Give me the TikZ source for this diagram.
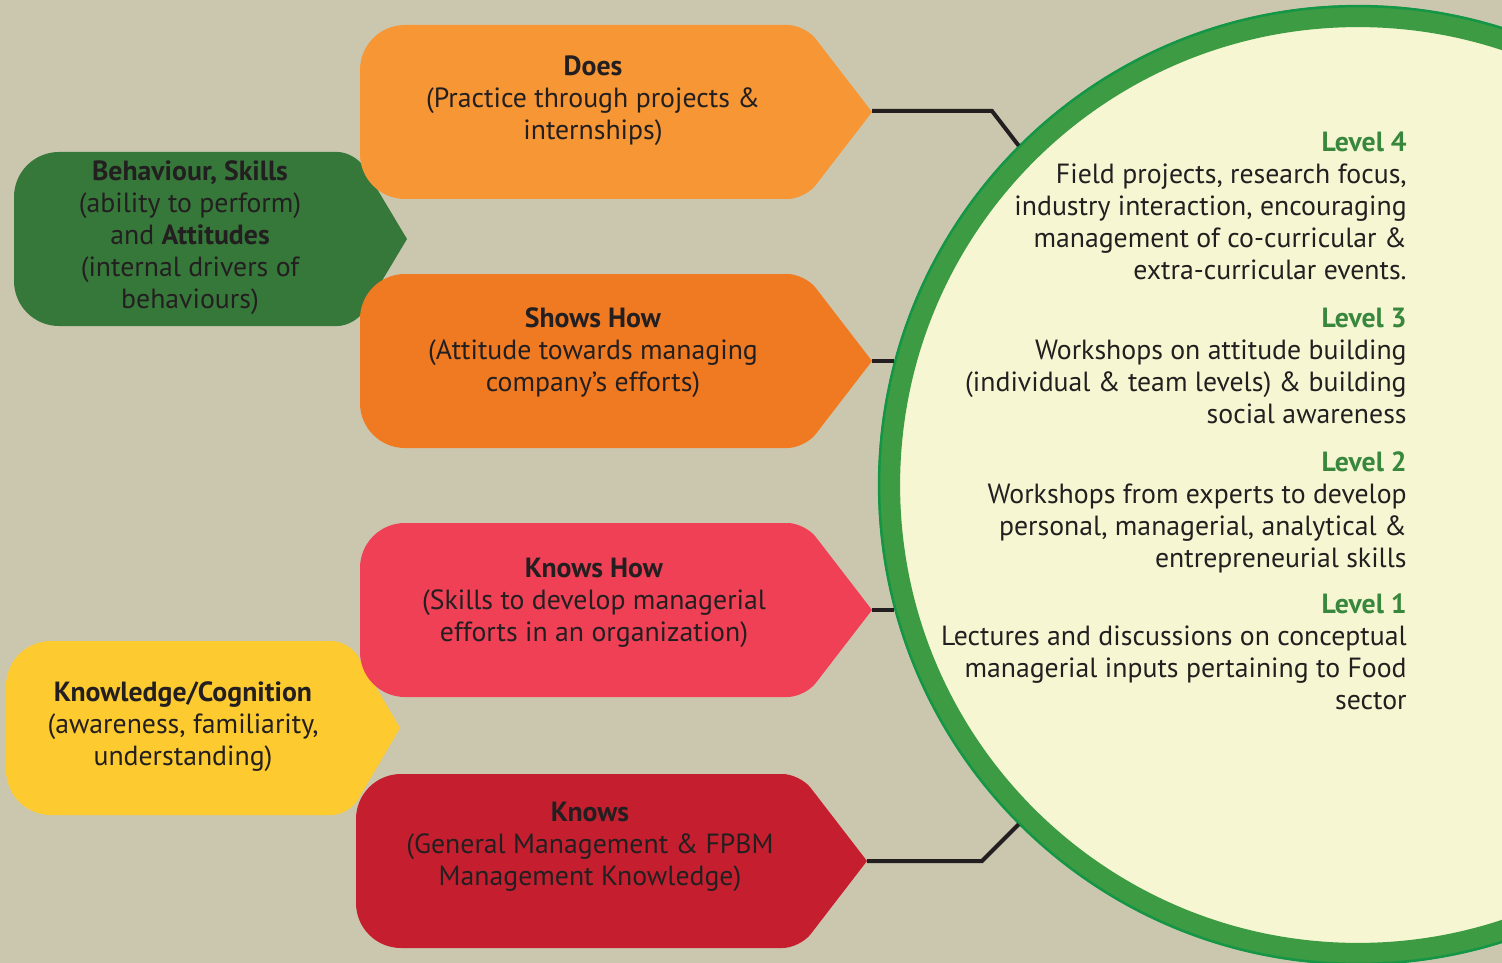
\documentclass[tikz,border=0pt]{standalone}
\usepackage{fontspec}
\setmainfont{PT Sans}
\usetikzlibrary{positioning}

\definecolor{bgbeige}{RGB}{203,199,175}
\definecolor{doesorange}{RGB}{246,150,52}
\definecolor{showsorange}{RGB}{240,122,34}
\definecolor{knowshowpink}{RGB}{239,64,86}
\definecolor{knowsred}{RGB}{197,31,47}
\definecolor{behavgreen}{RGB}{54,120,58}
\definecolor{knowlyellow}{RGB}{253,203,47}
\definecolor{ringgreen}{RGB}{60,155,67}
\definecolor{ringedge}{RGB}{20,150,70}
\definecolor{ringfill}{RGB}{246,247,210}
\definecolor{inkdark}{RGB}{35,31,32}
\definecolor{levelgreen}{RGB}{56,135,60}

\tikzset{
  boxtext/.style={align=center, text=inkdark, inner sep=0pt,
    font=\fontsize{15.8}{18.2}\selectfont},
  leveltext/.style={align=right, anchor=east, text=inkdark, inner sep=0pt,
    font=\fontsize{15.8}{18.2}\selectfont},
  link/.style={inkdark, line width=0.08cm},
}

% colour, left, top, shoulder, tip
\newcommand{\tagshape}[5]{%
  \fill[#1] (#2,#3+87) [rounded corners=0.9cm] -- (#2,#3)
    [rounded corners=0.35cm] -- (#4,#3) [sharp corners] -- (#5,#3+87)
    [rounded corners=0.35cm] -- (#4,#3+174) [rounded corners=0.9cm]
    -- (#2,#3+174) -- cycle;}
\newcommand{\lvl}[1]{\textbf{\color{levelgreen}Level #1}}

\begin{document}
\begin{tikzpicture}[x=0.02cm,y=-0.02cm]
\useasboundingbox (0,0) rectangle (1502,963);
\clip (0,0) rectangle (1502,963);
\fill[bgbeige] (0,0) rectangle (1502,963);

% left boxes
\tagshape{behavgreen}{14}{152}{355}{407}
\tagshape{knowlyellow}{6}{641}{349}{400}
% pyramid boxes
\tagshape{doesorange}{360}{25}{805}{872}
\tagshape{showsorange}{360}{274}{805}{872}
\tagshape{knowshowpink}{360}{523}{805}{872}
\tagshape{knowsred}{356}{774}{800}{867}

\coordinate (does tip) at (872,111);
\coordinate (shows tip) at (872,361);
\coordinate (knowshow tip) at (872,610);
\coordinate (knows tip) at (867,861);

% the levels circle
\node[circle, draw=ringgreen, line width=0.44cm, fill=ringfill,
  minimum size=18.76cm, inner sep=0pt] (ring) at (1358,485) {};
\draw[ringedge, line width=0.05cm] (ring.center) circle (9.58cm);

% connectors
\draw[link] (does tip) -- (992,111) -- (ring.135);
\draw[link] (shows tip) -- (ring.165 |- shows tip);
\draw[link] (knowshow tip) -- (ring.195 |- knowshow tip);
\draw[link] (knows tip) -- (982,861) -- (ring.225);

% box texts
\node[boxtext] (does) at (593,101) {\textbf{Does}\\(Practice through projects \&\\internships)};
\node[boxtext] (shows) at (593,353) {\textbf{Shows How}\\(Attitude towards managing\\company’s efforts)};
\node[boxtext] (knowshow) at (594,603) {\textbf{Knows How}\\(Skills to develop managerial\\efforts in an organization)};
\node[boxtext] (knows) at (590,847) {\textbf{Knows}\\(General Management \& FPBM\\Management Knowledge)};
\node[boxtext] (behav) at (190,238) {\textbf{Behaviour, Skills}\\(ability to perform)\\and \textbf{Attitudes}\\(internal drivers of\\behaviours)};
\node[boxtext] (knowl) at (183,727) {\textbf{Knowledge/Cognition}\\(awareness, familiarity,\\understanding)};

% level texts
\node[leveltext] (level4) at (1407,206) {\lvl{4}\\Field projects, research focus,\\industry interaction, encouraging\\management of co-curricular \&\\extra-curricular events.};
\node[leveltext] (level3) at (1407,366) {\lvl{3}\\Workshops on attitude building\\(individual \& team levels) \& building\\social awareness};
\node[leveltext] (level2) at (1407,512) {\lvl{2}\\Workshops from experts to develop\\personal, managerial, analytical \&\\entrepreneurial skills};
\node[leveltext] (level1) at (1407,652) {\lvl{1}\\Lectures and discussions on conceptual\\managerial inputs pertaining to Food\\sector};
\end{tikzpicture}
\end{document}
